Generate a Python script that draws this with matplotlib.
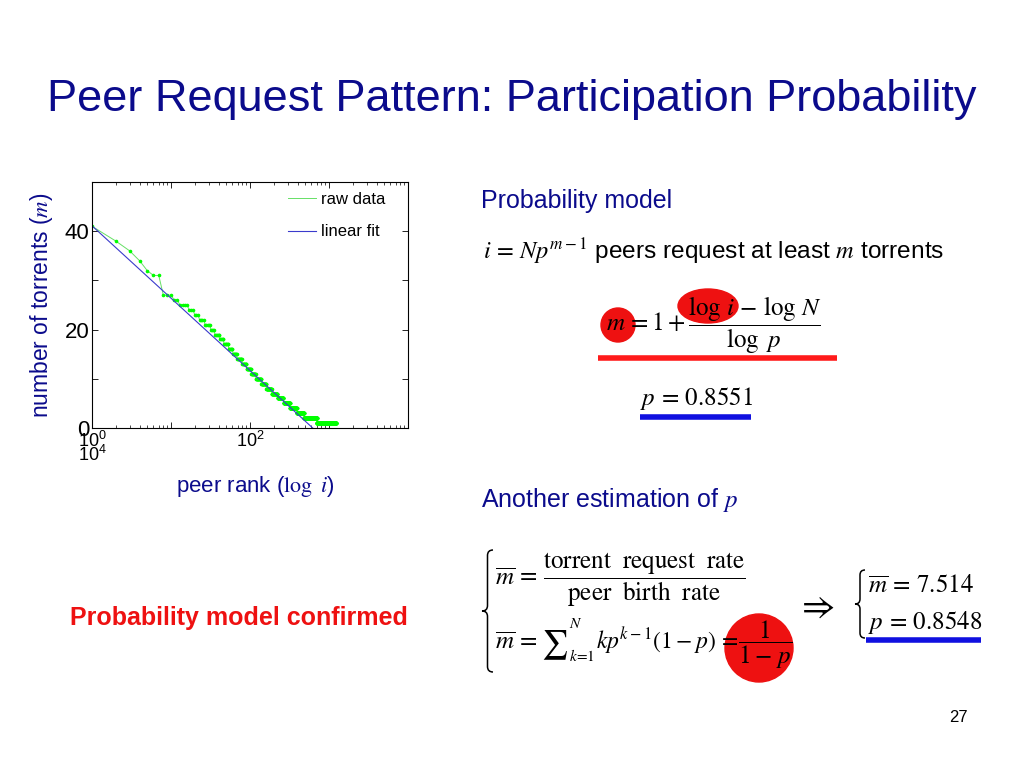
import matplotlib
matplotlib.use('Agg')
import matplotlib.pyplot as plt
from matplotlib import font_manager
from matplotlib.patches import Ellipse, Circle, PathPatch
from matplotlib.path import Path
from matplotlib.ticker import LogLocator, NullFormatter
import numpy as np

# raw data: torrent count m and the last peer rank having it
m_levels = [41, 38, 36, 34, 32, 31, 27, 26, 25, 24, 23, 22, 21, 20, 19, 18, 17,
            16, 15, 14, 13, 12, 11, 10, 9, 8, 7, 6, 5, 4, 3, 2, 1]
last_rank = [1, 2, 3, 4, 5, 7, 10, 12, 16, 19, 22, 26, 31, 35, 41, 46, 53,
             60, 68, 79, 90, 103, 118, 138, 160, 188, 222, 265, 320, 390, 480, 700, 1220]

# linear fit  m = 1 + (log i - log N) / log p
p_fit = 0.8551
N_fit = 532

x_ticklabels = [r'$\mathregular{10^0}$', '', r'$\mathregular{10^2}$', '', '']
y_ticklabels = ['0', '', '20', '', '40', '']

navy = '#0b0b8c'
title = 'Peer Request Pattern: Participation Probability'

plt.rcParams['font.family'] = ['Liberation Sans', 'DejaVu Sans']
plt.rcParams['mathtext.fontset'] = 'stix'

names = {f.name for f in font_manager.fontManager.ttflist}
title_font = 'Liberation Sans Narrow' if 'Liberation Sans Narrow' in names else 'Liberation Sans'
title_size = 35 if title_font == 'Liberation Sans Narrow' else 32.5

fig = plt.figure(figsize=(10.24, 7.68), dpi=100)

# ---- chart ----
ax = fig.add_axes([92/1024, 1 - 428/768, 316/1024, 246/768])
ranks = np.arange(1, last_rank[-1] + 1)
counts = np.repeat(m_levels, np.diff([0] + last_rank))
ax.plot(ranks, counts, color='#66e066', lw=0.7, label='raw data')
ax.plot(ranks, counts, ls='none', marker='.', ms=3.2, color='#00ff00')
i_fit = np.geomspace(1, N_fit / p_fit, 200)
m_fit = 1 + (np.log10(i_fit) - np.log10(N_fit)) / np.log10(p_fit)
ax.plot(i_fit, m_fit, color='#3a3acc', lw=0.8, label='linear fit')

ax.set_xscale('log')
ax.set_xlim(1, 1e4)
ax.set_ylim(0, 50)
ax.set_xticks([1, 10, 100, 1000, 10000])
ax.set_xticklabels(x_ticklabels, fontsize=13)
ax.xaxis.set_minor_locator(LogLocator(base=10, subs=np.arange(2, 10)))
ax.xaxis.set_minor_formatter(NullFormatter())
ax.set_yticks([0, 10, 20, 30, 40, 50])
ax.set_yticklabels(y_ticklabels, fontsize=16)
ax.tick_params(which='both', direction='in', top=True, right=True, pad=2)
ax.tick_params(which='major', length=4, width=0.6)
ax.tick_params(which='minor', length=2, width=0.5)
for s in ax.spines.values():
    s.set_linewidth(0.8)
ax.text(0.0, -0.11, r'$\mathregular{10^4}$', transform=ax.transAxes,
        ha='center', va='center', fontsize=13)
ax.set_ylabel(r'number of torrents ($m$)', color=navy, fontsize=16.5)
ax.yaxis.set_label_coords(-0.117, 0.5)
ax.set_xlabel(r'peer rank ($\log\ i$)', color=navy, fontsize=16)
ax.xaxis.set_label_coords(0.516, -0.187)
ax.legend(loc='upper left', bbox_to_anchor=(0.62, 0.96), frameon=False, fontsize=12,
          handlelength=1.7, handletextpad=0.3, labelspacing=1.05, borderpad=0, borderaxespad=0)

# ---- slide overlay in pixel coordinates ----
ov = fig.add_axes([0, 0, 1, 1])
ov.set_xlim(0, 1024)
ov.set_ylim(768, 0)
ov.axis('off')


def brace(x, yt, yb, w):
    ym = (yt + yb) / 2
    h = w / 2
    verts = [(x + w, yt), (x + h, yt), (x + h, yt + h),
             (x + h, ym - h), (x + h, ym), (x, ym),
             (x + h, ym), (x + h, ym + h),
             (x + h, yb - h), (x + h, yb), (x + w, yb)]
    codes = [Path.MOVETO, Path.CURVE3, Path.CURVE3,
             Path.LINETO, Path.CURVE3, Path.CURVE3,
             Path.CURVE3, Path.CURVE3,
             Path.LINETO, Path.CURVE3, Path.CURVE3]
    ov.add_patch(PathPatch(Path(verts, codes), fill=False, lw=1.1, color='black'))


ov.text(512, 100, title, ha='center', va='center', fontsize=title_size,
        color=navy, family=title_font)

ov.text(481, 201, 'Probability model', ha='left', va='center', fontsize=18, color=navy)
ov.text(483, 252, r'$i\,=\,Np^{m-1}$ peers request at least $m$ torrents',
        ha='left', va='center', fontsize=17.6)

# m = 1 + (log i - log N) / log p
ov.add_patch(Circle((618, 325), 17, color='#ee1111', zorder=1))
ov.add_patch(Ellipse((708, 306), 60, 34, color='#ee1111', zorder=1))
ov.text(606, 325, r'$m\,=1 + \dfrac{\log\, i\, -\, \log\, N}{\log\ p}$',
        ha='left', va='center', fontsize=18, zorder=3)
ov.plot([598, 837], [358, 358], color='#ff1a1a', lw=4, solid_capstyle='butt')

ov.text(640, 399, r'$p\, =\, 0.8551$', ha='left', va='center', fontsize=18)
ov.plot([640, 751], [417, 417], color='#1010e0', lw=4, solid_capstyle='butt')

ov.text(481, 500, r'Another estimation of $p$', ha='left', va='center', fontsize=18, color=navy)

brace(482, 550, 672, 11)
ov.text(495, 580, r'$\overline{m}\, =\, \dfrac{\mathrm{torrent\ \ request\ \ rate}}{\mathrm{peer\ \ birth\ \ rate}}$',
        ha='left', va='center', fontsize=18)

# second line of the system, built in pieces
ov.add_patch(Circle((759, 648), 34, color='#ee1111', zorder=1))
ov.text(495, 649, r'$\overline{m}\, =$', ha='left', va='baseline', fontsize=18, zorder=3)
ov.text(541, 645, r'$\sum$', ha='left', va='center', fontsize=21, zorder=3)
ov.text(569, 624, r'$N$', ha='left', va='center', fontsize=11, zorder=3)
ov.text(569, 656, r'$k\!=\!1$', ha='left', va='center', fontsize=11, zorder=3)
ov.text(596, 649, r'$kp^{k-1}(1-p)\,=$', ha='left', va='baseline', fontsize=17, zorder=3)
ov.text(765, 645, r'$\dfrac{1}{1-\,p}$', ha='center', va='center', fontsize=18, zorder=3)

ov.text(815, 607, r'$\Rightarrow$', ha='center', va='center', fontsize=26)
brace(855, 570, 638, 10)
ov.text(868, 586, r'$\overline{m}\, =\, 7.514$', ha='left', va='center', fontsize=18)
ov.text(868, 623, r'$p\, =\, 0.8548$', ha='left', va='center', fontsize=18)
ov.plot([866, 981], [640, 640], color='#1010e0', lw=4, solid_capstyle='butt')

ov.text(70, 618, 'Probability model confirmed', ha='left', va='center', fontsize=18,
        color='#ee1111', fontweight='bold')
ov.text(958, 718, '27', ha='center', va='center', fontsize=12)

fig.savefig('out.png', dpi=100)
